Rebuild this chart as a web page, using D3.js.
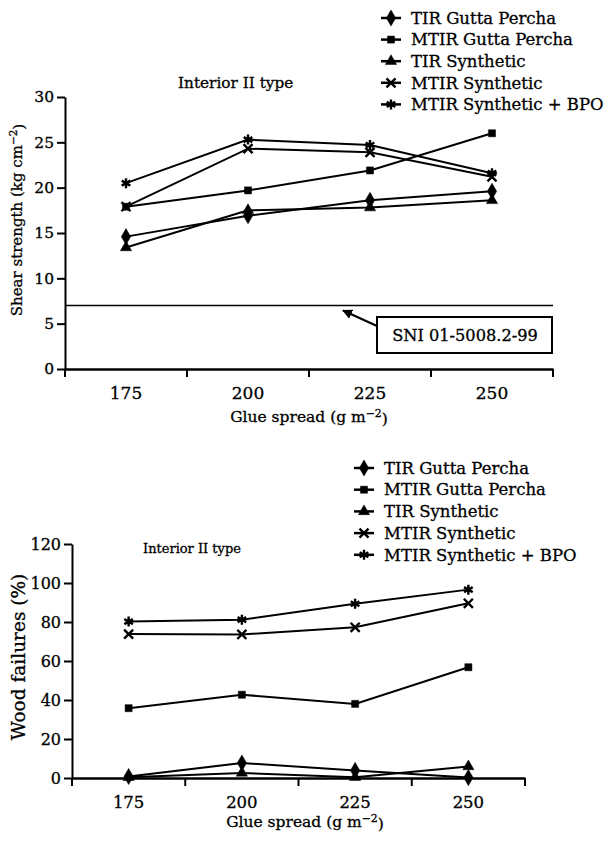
<!DOCTYPE html>
<html>
<head>
<meta charset="utf-8">
<script src="https://cdn.jsdelivr.net/npm/d3@7"></script>
<style>
  body { margin: 0; background: #fff; }
  text { font-family: "DejaVu Serif", "Liberation Serif", serif; fill: #000; stroke: #000; stroke-width: 0.3px; }
</style>
</head>
<body>
<svg id="chart" width="605" height="841"></svg>
<script>
// glue spread categories (g m-2)
var spreads = ["175", "200", "225", "250"];
var seriesNames = ["TIR Gutta Percha", "MTIR Gutta Percha", "TIR Synthetic", "MTIR Synthetic", "MTIR Synthetic + BPO"];

// shear strength (kg cm-2)
var shearTirGp = [14.6, 16.9, 18.6, 19.6];
var shearMtirGp = [17.9, 19.7, 21.9, 26.0];
var shearTirSyn = [13.4, 17.5, 17.8, 18.6];
var shearMtirSyn = [17.9, 24.3, 23.9, 21.2];
var shearMtirBpo = [20.5, 25.3, 24.7, 21.6];
var shearTicks = [0, 5, 10, 15, 20, 25, 30];
var sniStandard = 7;

// wood failures (%)
var woodTirGp = [0.8, 7.7, 3.9, 0.2];
var woodMtirGp = [35.8, 42.7, 38.0, 56.8];
var woodTirSyn = [0.4, 2.6, 0.4, 5.9];
var woodMtirSyn = [73.8, 73.6, 77.3, 89.6];
var woodMtirBpo = [80.2, 81.2, 89.4, 96.6];
var woodTicks = [0, 20, 40, 60, 80, 100, 120];

var svg = d3.select("#chart");

var symbolTypes = [d3.symbolDiamond, d3.symbolSquare, d3.symbolTriangle, d3.symbolTimes, d3.symbolAsterisk];
var symbolSizes = [75, 50, 55, 55, 70];
var filledSymbol = [true, true, true, false, false];

function drawMarker(g, i, x, y) {
  g.append("path")
    .attr("d", d3.symbol().type(symbolTypes[i]).size(symbolSizes[i])())
    .attr("transform", "translate(" + x + "," + y + ")")
    .attr("fill", filledSymbol[i] ? "#000" : "none")
    .attr("stroke", "#000")
    .attr("stroke-width", filledSymbol[i] ? 0.5 : 2.4);
}

function drawChart(opt) {
  var g = svg.append("g");

  var x = d3.scaleBand().domain(spreads).range([opt.left, opt.right]).padding(0);
  var y = d3.scaleLinear().domain(opt.domain).range([opt.bottom, opt.top]);

  // y axis
  var yAxis = g.append("g")
    .attr("transform", "translate(" + opt.left + ",0)")
    .call(d3.axisLeft(y).tickValues(opt.ticks).tickSize(8).tickPadding(3).tickSizeOuter(0));
  yAxis.select(".domain").attr("stroke-width", 2);
  yAxis.selectAll(".tick line").attr("stroke-width", 2);
  yAxis.selectAll("text").style("font-size", opt.yTickFont + "px").attr("font-family", null);

  // x axis: labels at band centres, ticks on band edges
  var xAxis = g.append("g")
    .attr("transform", "translate(0," + opt.bottom + ")")
    .call(d3.axisBottom(x).tickSize(0).tickPadding(opt.xTickPad).tickSizeOuter(0));
  xAxis.select(".domain").attr("stroke-width", 2.5);
  xAxis.selectAll("text").style("font-size", opt.xTickFont + "px").attr("font-family", null);
  var edges = spreads.map(function(d) { return x(d); }).concat([x.range()[1]]);
  xAxis.selectAll(".edge").data(edges).enter().append("line")
    .attr("x1", function(d) { return d; }).attr("x2", function(d) { return d; })
    .attr("y1", 0).attr("y2", 8)
    .attr("stroke", "#000").attr("stroke-width", 2);

  // axis titles
  var yt = g.append("text")
    .attr("transform", "translate(" + opt.yTitleX + "," + opt.yTitleY + ") rotate(-90)")
    .attr("text-anchor", "middle")
    .style("font-size", opt.yTitleFont + "px")
    .text(opt.yTitle);
  if (opt.yTitleSup) {
    yt.append("tspan").text(opt.yTitleSup).attr("dy", "-0.5em").style("font-size", "0.7em");
    yt.append("tspan").text(")").attr("dy", "0.5em");
  }

  var xt = g.append("text")
    .attr("x", opt.xTitleX)
    .attr("y", opt.xTitleY)
    .attr("text-anchor", "middle")
    .style("font-size", opt.xTitleFont + "px")
    .text("Glue spread (g m");
  xt.append("tspan").text("\u22122").attr("dy", "-0.5em").style("font-size", "0.7em");
  xt.append("tspan").text(")").attr("dy", "0.5em");

  // panel title
  g.append("text")
    .attr("x", opt.titleX).attr("y", opt.titleY)
    .style("font-size", opt.titleFont + "px")
    .text("Interior II type");

  // series
  var line = d3.line()
    .x(function(d, j) { return x(spreads[j]) + x.bandwidth() / 2; })
    .y(function(d) { return y(d); });

  opt.series.forEach(function(vals, i) {
    g.append("path")
      .datum(vals)
      .attr("d", line)
      .attr("fill", "none")
      .attr("stroke", "#000")
      .attr("stroke-width", 2);
    vals.forEach(function(v, j) {
      drawMarker(g, i, x(spreads[j]) + x.bandwidth() / 2, y(v));
    });
  });

  // legend
  var lg = g.append("g");
  seriesNames.forEach(function(name, i) {
    var ly = opt.legendY + i * opt.legendStep;
    lg.append("line")
      .attr("x1", opt.legendX).attr("x2", opt.legendX + 20)
      .attr("y1", ly).attr("y2", ly)
      .attr("stroke", "#000").attr("stroke-width", 2.5);
    drawMarker(lg, i, opt.legendX + 10, ly);
    lg.append("text")
      .attr("x", opt.legendX + 30).attr("y", ly)
      .attr("dy", "0.35em")
      .style("font-size", opt.legendFont + "px")
      .text(name);
  });

  return { g: g, x: x, y: y };
}

var shearChart = drawChart({
  left: 65, right: 553, top: 97, bottom: 369,
  domain: [0, 30], ticks: shearTicks,
  series: [shearTirGp, shearMtirGp, shearTirSyn, shearMtirSyn, shearMtirBpo],
  yTickFont: 15.5, xTickFont: 17, xTickPad: 18,
  yTitle: "Shear strength (kg cm", yTitleSup: "\u22122", yTitleX: 22, yTitleY: 220, yTitleFont: 15,
  xTitleX: 309, xTitleY: 422, xTitleFont: 15.5,
  titleX: 178, titleY: 88, titleFont: 15.3,
  legendX: 381, legendY: 18, legendStep: 21.6, legendFont: 16.5
});

// SNI standard line with callout
shearChart.g.append("line")
  .attr("x1", 65).attr("x2", 553)
  .attr("y1", shearChart.y(sniStandard)).attr("y2", shearChart.y(sniStandard))
  .attr("stroke", "#000").attr("stroke-width", 1.5);

svg.append("defs").append("marker")
  .attr("id", "arrow").attr("viewBox", "0 0 10 10")
  .attr("refX", 9).attr("refY", 5)
  .attr("markerWidth", 5).attr("markerHeight", 5)
  .attr("orient", "auto")
  .append("path").attr("d", "M0,0L10,5L0,10z").attr("fill", "#000");

shearChart.g.append("line")
  .attr("x1", 377).attr("y1", 326)
  .attr("x2", 343).attr("y2", shearChart.y(sniStandard) + 5)
  .attr("stroke", "#000").attr("stroke-width", 2)
  .attr("marker-end", "url(#arrow)");

shearChart.g.append("rect")
  .attr("x", 377).attr("y", 317).attr("width", 175).attr("height", 36)
  .attr("fill", "#fff").attr("stroke", "#000").attr("stroke-width", 2);
shearChart.g.append("text")
  .attr("x", 465).attr("y", 335).attr("dy", "0.35em")
  .attr("text-anchor", "middle")
  .style("font-size", "16.2px")
  .text("SNI 01-5008.2-99");

drawChart({
  left: 72, right: 525, top: 544, bottom: 778,
  domain: [0, 120], ticks: woodTicks,
  series: [woodTirGp, woodMtirGp, woodTirSyn, woodMtirSyn, woodMtirBpo],
  yTickFont: 16, xTickFont: 16.5, xTickPad: 18,
  yTitle: "Wood failures (%)", yTitleX: 25, yTitleY: 657, yTitleFont: 18.5,
  xTitleX: 305, xTitleY: 827, xTitleFont: 15.5,
  titleX: 143, titleY: 553, titleFont: 13,
  legendX: 354, legendY: 468, legendStep: 21.7, legendFont: 16.5
});
</script>
</body>
</html>
